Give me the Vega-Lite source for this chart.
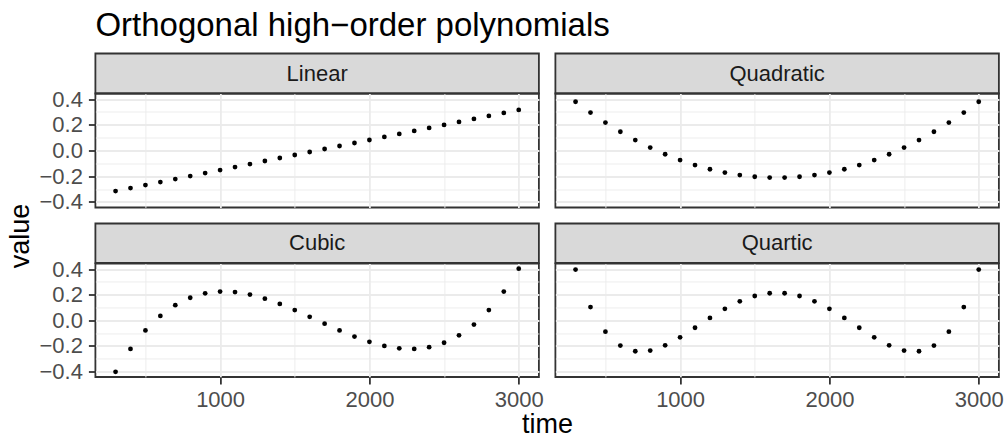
{
  "$schema": "https://vega.github.io/schema/vega-lite/v6.json",
  "padding": {"left": 5.4, "top": 9.5, "right": 0, "bottom": 0},
  "title": {"text": "Orthogonal high−order polynomials", "anchor": "start", "frame": "group", "fontSize": 33, "fontWeight": "normal", "color": "black", "offset": 9.5, "font": "Liberation Sans"},
  "config": {
    "font": "Liberation Sans",
    "view": {"stroke": "#333333", "strokeWidth": 1.8},
    "axis": {"gridColor": "#EBEBEB", "domain": false, "tickColor": "#333333", "tickWidth": 1.8, "tickSize": 7, "labelColor": "#4D4D4D", "labelFontSize": 22, "labelFont": "Liberation Sans", "labelPadding": 6, "labelOverlap": false, "titleFont": "Liberation Sans", "titleFontSize": 27, "titleFontWeight": "normal", "titleColor": "black"}
  },
  "data": {"values": [
    {"degree": "Linear", "time": 300, "value": -0.3158}, {"degree": "Linear", "time": 400, "value": -0.2924}, {"degree": "Linear", "time": 500, "value": -0.2690}, {"degree": "Linear", "time": 600, "value": -0.2457}, {"degree": "Linear", "time": 700, "value": -0.2223}, {"degree": "Linear", "time": 800, "value": -0.1989}, {"degree": "Linear", "time": 900, "value": -0.1755}, {"degree": "Linear", "time": 1000, "value": -0.1521}, {"degree": "Linear", "time": 1100, "value": -0.1287}, {"degree": "Linear", "time": 1200, "value": -0.1053}, {"degree": "Linear", "time": 1300, "value": -0.0819}, {"degree": "Linear", "time": 1400, "value": -0.0585}, {"degree": "Linear", "time": 1500, "value": -0.0351}, {"degree": "Linear", "time": 1600, "value": -0.0117},
    {"degree": "Linear", "time": 1700, "value": 0.0117}, {"degree": "Linear", "time": 1800, "value": 0.0351}, {"degree": "Linear", "time": 1900, "value": 0.0585}, {"degree": "Linear", "time": 2000, "value": 0.0819}, {"degree": "Linear", "time": 2100, "value": 0.1053}, {"degree": "Linear", "time": 2200, "value": 0.1287}, {"degree": "Linear", "time": 2300, "value": 0.1521}, {"degree": "Linear", "time": 2400, "value": 0.1755}, {"degree": "Linear", "time": 2500, "value": 0.1989}, {"degree": "Linear", "time": 2600, "value": 0.2223}, {"degree": "Linear", "time": 2700, "value": 0.2457}, {"degree": "Linear", "time": 2800, "value": 0.2690}, {"degree": "Linear", "time": 2900, "value": 0.2924}, {"degree": "Linear", "time": 3000, "value": 0.3158},
    {"degree": "Quadratic", "time": 300, "value": 0.3796}, {"degree": "Quadratic", "time": 400, "value": 0.2952}, {"degree": "Quadratic", "time": 500, "value": 0.2174}, {"degree": "Quadratic", "time": 600, "value": 0.1460}, {"degree": "Quadratic", "time": 700, "value": 0.0811}, {"degree": "Quadratic", "time": 800, "value": 0.0227}, {"degree": "Quadratic", "time": 900, "value": -0.0292}, {"degree": "Quadratic", "time": 1000, "value": -0.0746}, {"degree": "Quadratic", "time": 1100, "value": -0.1136}, {"degree": "Quadratic", "time": 1200, "value": -0.1460}, {"degree": "Quadratic", "time": 1300, "value": -0.1720}, {"degree": "Quadratic", "time": 1400, "value": -0.1914}, {"degree": "Quadratic", "time": 1500, "value": -0.2044}, {"degree": "Quadratic", "time": 1600, "value": -0.2109},
    {"degree": "Quadratic", "time": 1700, "value": -0.2109}, {"degree": "Quadratic", "time": 1800, "value": -0.2044}, {"degree": "Quadratic", "time": 1900, "value": -0.1914}, {"degree": "Quadratic", "time": 2000, "value": -0.1720}, {"degree": "Quadratic", "time": 2100, "value": -0.1460}, {"degree": "Quadratic", "time": 2200, "value": -0.1136}, {"degree": "Quadratic", "time": 2300, "value": -0.0746}, {"degree": "Quadratic", "time": 2400, "value": -0.0292}, {"degree": "Quadratic", "time": 2500, "value": 0.0227}, {"degree": "Quadratic", "time": 2600, "value": 0.0811}, {"degree": "Quadratic", "time": 2700, "value": 0.1460}, {"degree": "Quadratic", "time": 2800, "value": 0.2174}, {"degree": "Quadratic", "time": 2900, "value": 0.2952}, {"degree": "Quadratic", "time": 3000, "value": 0.3796},
    {"degree": "Cubic", "time": 300, "value": -0.4033}, {"degree": "Cubic", "time": 400, "value": -0.2241}, {"degree": "Cubic", "time": 500, "value": -0.0793}, {"degree": "Cubic", "time": 600, "value": 0.0338}, {"degree": "Cubic", "time": 700, "value": 0.1179}, {"degree": "Cubic", "time": 800, "value": 0.1758}, {"degree": "Cubic", "time": 900, "value": 0.2103}, {"degree": "Cubic", "time": 1000, "value": 0.2241}, {"degree": "Cubic", "time": 1100, "value": 0.2199}, {"degree": "Cubic", "time": 1200, "value": 0.2006}, {"degree": "Cubic", "time": 1300, "value": 0.1689}, {"degree": "Cubic", "time": 1400, "value": 0.1276}, {"degree": "Cubic", "time": 1500, "value": 0.0793}, {"degree": "Cubic", "time": 1600, "value": 0.0269},
    {"degree": "Cubic", "time": 1700, "value": -0.0269}, {"degree": "Cubic", "time": 1800, "value": -0.0793}, {"degree": "Cubic", "time": 1900, "value": -0.1276}, {"degree": "Cubic", "time": 2000, "value": -0.1689}, {"degree": "Cubic", "time": 2100, "value": -0.2006}, {"degree": "Cubic", "time": 2200, "value": -0.2199}, {"degree": "Cubic", "time": 2300, "value": -0.2241}, {"degree": "Cubic", "time": 2400, "value": -0.2103}, {"degree": "Cubic", "time": 2500, "value": -0.1758}, {"degree": "Cubic", "time": 2600, "value": -0.1179}, {"degree": "Cubic", "time": 2700, "value": -0.0338}, {"degree": "Cubic", "time": 2800, "value": 0.0793}, {"degree": "Cubic", "time": 2900, "value": 0.2241}, {"degree": "Cubic", "time": 3000, "value": 0.4033},
    {"degree": "Quartic", "time": 300, "value": 0.3961}, {"degree": "Quartic", "time": 400, "value": 0.1027}, {"degree": "Quartic", "time": 500, "value": -0.0891}, {"degree": "Quartic", "time": 600, "value": -0.1984}, {"degree": "Quartic", "time": 700, "value": -0.2424}, {"degree": "Quartic", "time": 800, "value": -0.2370}, {"degree": "Quartic", "time": 900, "value": -0.1963}, {"degree": "Quartic", "time": 1000, "value": -0.1332}, {"degree": "Quartic", "time": 1100, "value": -0.0585}, {"degree": "Quartic", "time": 1200, "value": 0.0183}, {"degree": "Quartic", "time": 1300, "value": 0.0891}, {"degree": "Quartic", "time": 1400, "value": 0.1478}, {"degree": "Quartic", "time": 1500, "value": 0.1896}, {"degree": "Quartic", "time": 1600, "value": 0.2112},
    {"degree": "Quartic", "time": 1700, "value": 0.2112}, {"degree": "Quartic", "time": 1800, "value": 0.1896}, {"degree": "Quartic", "time": 1900, "value": 0.1478}, {"degree": "Quartic", "time": 2000, "value": 0.0891}, {"degree": "Quartic", "time": 2100, "value": 0.0183}, {"degree": "Quartic", "time": 2200, "value": -0.0585}, {"degree": "Quartic", "time": 2300, "value": -0.1332}, {"degree": "Quartic", "time": 2400, "value": -0.1963}, {"degree": "Quartic", "time": 2500, "value": -0.2370}, {"degree": "Quartic", "time": 2600, "value": -0.2424}, {"degree": "Quartic", "time": 2700, "value": -0.1984}, {"degree": "Quartic", "time": 2800, "value": -0.0891}, {"degree": "Quartic", "time": 2900, "value": 0.1027}, {"degree": "Quartic", "time": 3000, "value": 0.3961}
  ]},
  "columns": 2,
  "spacing": {"row": 0, "column": 16},
  "bounds": "flush",
  "align": "each",
  "concat": [
    {"width": 443.5, "height": 40, "view": {"fill": "#D9D9D9", "stroke": "#333333", "strokeWidth": 1.8},
     "transform": [{"filter": "datum.degree === 'Linear'"}, {"aggregate": [{"op": "count", "as": "n"}], "groupby": ["degree"]}],
     "mark": {"type": "text", "fontSize": 22, "font": "Liberation Sans", "color": "#1A1A1A", "baseline": "middle"},
     "encoding": {"text": {"field": "degree", "type": "nominal"}}},
    {"width": 443.5, "height": 40, "view": {"fill": "#D9D9D9", "stroke": "#333333", "strokeWidth": 1.8},
     "transform": [{"filter": "datum.degree === 'Quadratic'"}, {"aggregate": [{"op": "count", "as": "n"}], "groupby": ["degree"]}],
     "mark": {"type": "text", "fontSize": 22, "font": "Liberation Sans", "color": "#1A1A1A", "baseline": "middle"},
     "encoding": {"text": {"field": "degree", "type": "nominal"}}},
    {"width": 443.5, "height": 114,
     "transform": [{"filter": "datum.degree === 'Linear'"}],
     "layer": [
       {"mark": {"type": "circle", "opacity": 0},
        "encoding": {
          "x": {"field": "time", "type": "quantitative", "scale": {"domain": [165, 3135], "nice": false, "zero": false}, "axis": {"orient": "top", "values": [500, 1500, 2500], "grid": true, "gridWidth": 0.9, "labels": false, "ticks": false, "title": null}},
          "y": {"field": "value", "type": "quantitative", "scale": {"domain": [-0.4437, 0.4437], "nice": false, "zero": false}, "axis": {"orient": "right", "values": [-0.3, -0.1, 0.1, 0.3], "grid": true, "gridWidth": 0.9, "labels": false, "ticks": false, "title": null}}}},
       {"mark": {"type": "circle", "size": 23, "color": "black", "opacity": 1},
        "encoding": {
          "x": {"field": "time", "type": "quantitative", "scale": {"domain": [165, 3135], "nice": false, "zero": false}, "axis": {"orient": "bottom", "values": [1000, 2000, 3000], "grid": true, "gridWidth": 1.8, "labels": false, "ticks": false, "title": null}},
          "y": {"field": "value", "type": "quantitative", "scale": {"domain": [-0.4437, 0.4437], "nice": false, "zero": false}, "axis": {"orient": "left", "values": [-0.4, -0.2, 0, 0.2, 0.4], "format": ".1f", "grid": true, "gridWidth": 1.8, "title": null}}}}
     ],
     "resolve": {"axis": {"x": "independent", "y": "independent"}}},
    {"width": 443.5, "height": 114,
     "transform": [{"filter": "datum.degree === 'Quadratic'"}],
     "layer": [
       {"mark": {"type": "circle", "opacity": 0},
        "encoding": {
          "x": {"field": "time", "type": "quantitative", "scale": {"domain": [165, 3135], "nice": false, "zero": false}, "axis": {"orient": "top", "values": [500, 1500, 2500], "grid": true, "gridWidth": 0.9, "labels": false, "ticks": false, "title": null}},
          "y": {"field": "value", "type": "quantitative", "scale": {"domain": [-0.4437, 0.4437], "nice": false, "zero": false}, "axis": {"orient": "right", "values": [-0.3, -0.1, 0.1, 0.3], "grid": true, "gridWidth": 0.9, "labels": false, "ticks": false, "title": null}}}},
       {"mark": {"type": "circle", "size": 23, "color": "black", "opacity": 1},
        "encoding": {
          "x": {"field": "time", "type": "quantitative", "scale": {"domain": [165, 3135], "nice": false, "zero": false}, "axis": {"orient": "bottom", "values": [1000, 2000, 3000], "grid": true, "gridWidth": 1.8, "labels": false, "ticks": false, "title": null}},
          "y": {"field": "value", "type": "quantitative", "scale": {"domain": [-0.4437, 0.4437], "nice": false, "zero": false}, "axis": {"orient": "left", "values": [-0.4, -0.2, 0, 0.2, 0.4], "grid": true, "gridWidth": 1.8, "labels": false, "ticks": false, "title": null}}}}
     ],
     "resolve": {"axis": {"x": "independent", "y": "independent"}}},
    {"width": 443.5, "height": 16, "view": {"stroke": null}, "transform": [{"filter": "false"}], "mark": "text", "encoding": {}},
    {"width": 443.5, "height": 16, "view": {"stroke": null}, "transform": [{"filter": "false"}], "mark": "text", "encoding": {}},
    {"width": 443.5, "height": 39.5, "view": {"fill": "#D9D9D9", "stroke": "#333333", "strokeWidth": 1.8},
     "transform": [{"filter": "datum.degree === 'Cubic'"}, {"aggregate": [{"op": "count", "as": "n"}], "groupby": ["degree"]}],
     "mark": {"type": "text", "fontSize": 22, "font": "Liberation Sans", "color": "#1A1A1A", "baseline": "middle"},
     "encoding": {"text": {"field": "degree", "type": "nominal"}}},
    {"width": 443.5, "height": 39.5, "view": {"fill": "#D9D9D9", "stroke": "#333333", "strokeWidth": 1.8},
     "transform": [{"filter": "datum.degree === 'Quartic'"}, {"aggregate": [{"op": "count", "as": "n"}], "groupby": ["degree"]}],
     "mark": {"type": "text", "fontSize": 22, "font": "Liberation Sans", "color": "#1A1A1A", "baseline": "middle"},
     "encoding": {"text": {"field": "degree", "type": "nominal"}}},
    {"width": 443.5, "height": 113.5,
     "transform": [{"filter": "datum.degree === 'Cubic'"}],
     "layer": [
       {"mark": {"type": "circle", "opacity": 0},
        "encoding": {
          "x": {"field": "time", "type": "quantitative", "scale": {"domain": [165, 3135], "nice": false, "zero": false}, "axis": {"orient": "top", "values": [500, 1500, 2500], "grid": true, "gridWidth": 0.9, "labels": false, "ticks": false, "title": null}},
          "y": {"field": "value", "type": "quantitative", "scale": {"domain": [-0.4437, 0.4437], "nice": false, "zero": false}, "axis": {"orient": "right", "values": [-0.3, -0.1, 0.1, 0.3], "grid": true, "gridWidth": 0.9, "labels": false, "ticks": false, "title": null}}}},
       {"mark": {"type": "circle", "size": 23, "color": "black", "opacity": 1},
        "encoding": {
          "x": {"field": "time", "type": "quantitative", "scale": {"domain": [165, 3135], "nice": false, "zero": false}, "axis": {"orient": "bottom", "values": [1000, 2000, 3000], "format": "d", "grid": true, "gridWidth": 1.8, "title": "time", "titleX": 451.5, "titleY": 56, "titleBaseline": "alphabetic", "titleAlign": "center"}},
          "y": {"field": "value", "type": "quantitative", "scale": {"domain": [-0.4437, 0.4437], "nice": false, "zero": false}, "axis": {"orient": "left", "values": [-0.4, -0.2, 0, 0.2, 0.4], "format": ".1f", "grid": true, "gridWidth": 1.8, "title": "value", "titleX": -67, "titleY": -28, "titleAngle": -90, "titleBaseline": "alphabetic", "titleAlign": "center"}}}}
     ],
     "resolve": {"axis": {"x": "independent", "y": "independent"}}},
    {"width": 443.5, "height": 113.5,
     "transform": [{"filter": "datum.degree === 'Quartic'"}],
     "layer": [
       {"mark": {"type": "circle", "opacity": 0},
        "encoding": {
          "x": {"field": "time", "type": "quantitative", "scale": {"domain": [165, 3135], "nice": false, "zero": false}, "axis": {"orient": "top", "values": [500, 1500, 2500], "grid": true, "gridWidth": 0.9, "labels": false, "ticks": false, "title": null}},
          "y": {"field": "value", "type": "quantitative", "scale": {"domain": [-0.4437, 0.4437], "nice": false, "zero": false}, "axis": {"orient": "right", "values": [-0.3, -0.1, 0.1, 0.3], "grid": true, "gridWidth": 0.9, "labels": false, "ticks": false, "title": null}}}},
       {"mark": {"type": "circle", "size": 23, "color": "black", "opacity": 1},
        "encoding": {
          "x": {"field": "time", "type": "quantitative", "scale": {"domain": [165, 3135], "nice": false, "zero": false}, "axis": {"orient": "bottom", "values": [1000, 2000, 3000], "format": "d", "grid": true, "gridWidth": 1.8, "title": null}},
          "y": {"field": "value", "type": "quantitative", "scale": {"domain": [-0.4437, 0.4437], "nice": false, "zero": false}, "axis": {"orient": "left", "values": [-0.4, -0.2, 0, 0.2, 0.4], "grid": true, "gridWidth": 1.8, "labels": false, "ticks": false, "title": null}}}}
     ],
     "resolve": {"axis": {"x": "independent", "y": "independent"}}}
  ]
}
